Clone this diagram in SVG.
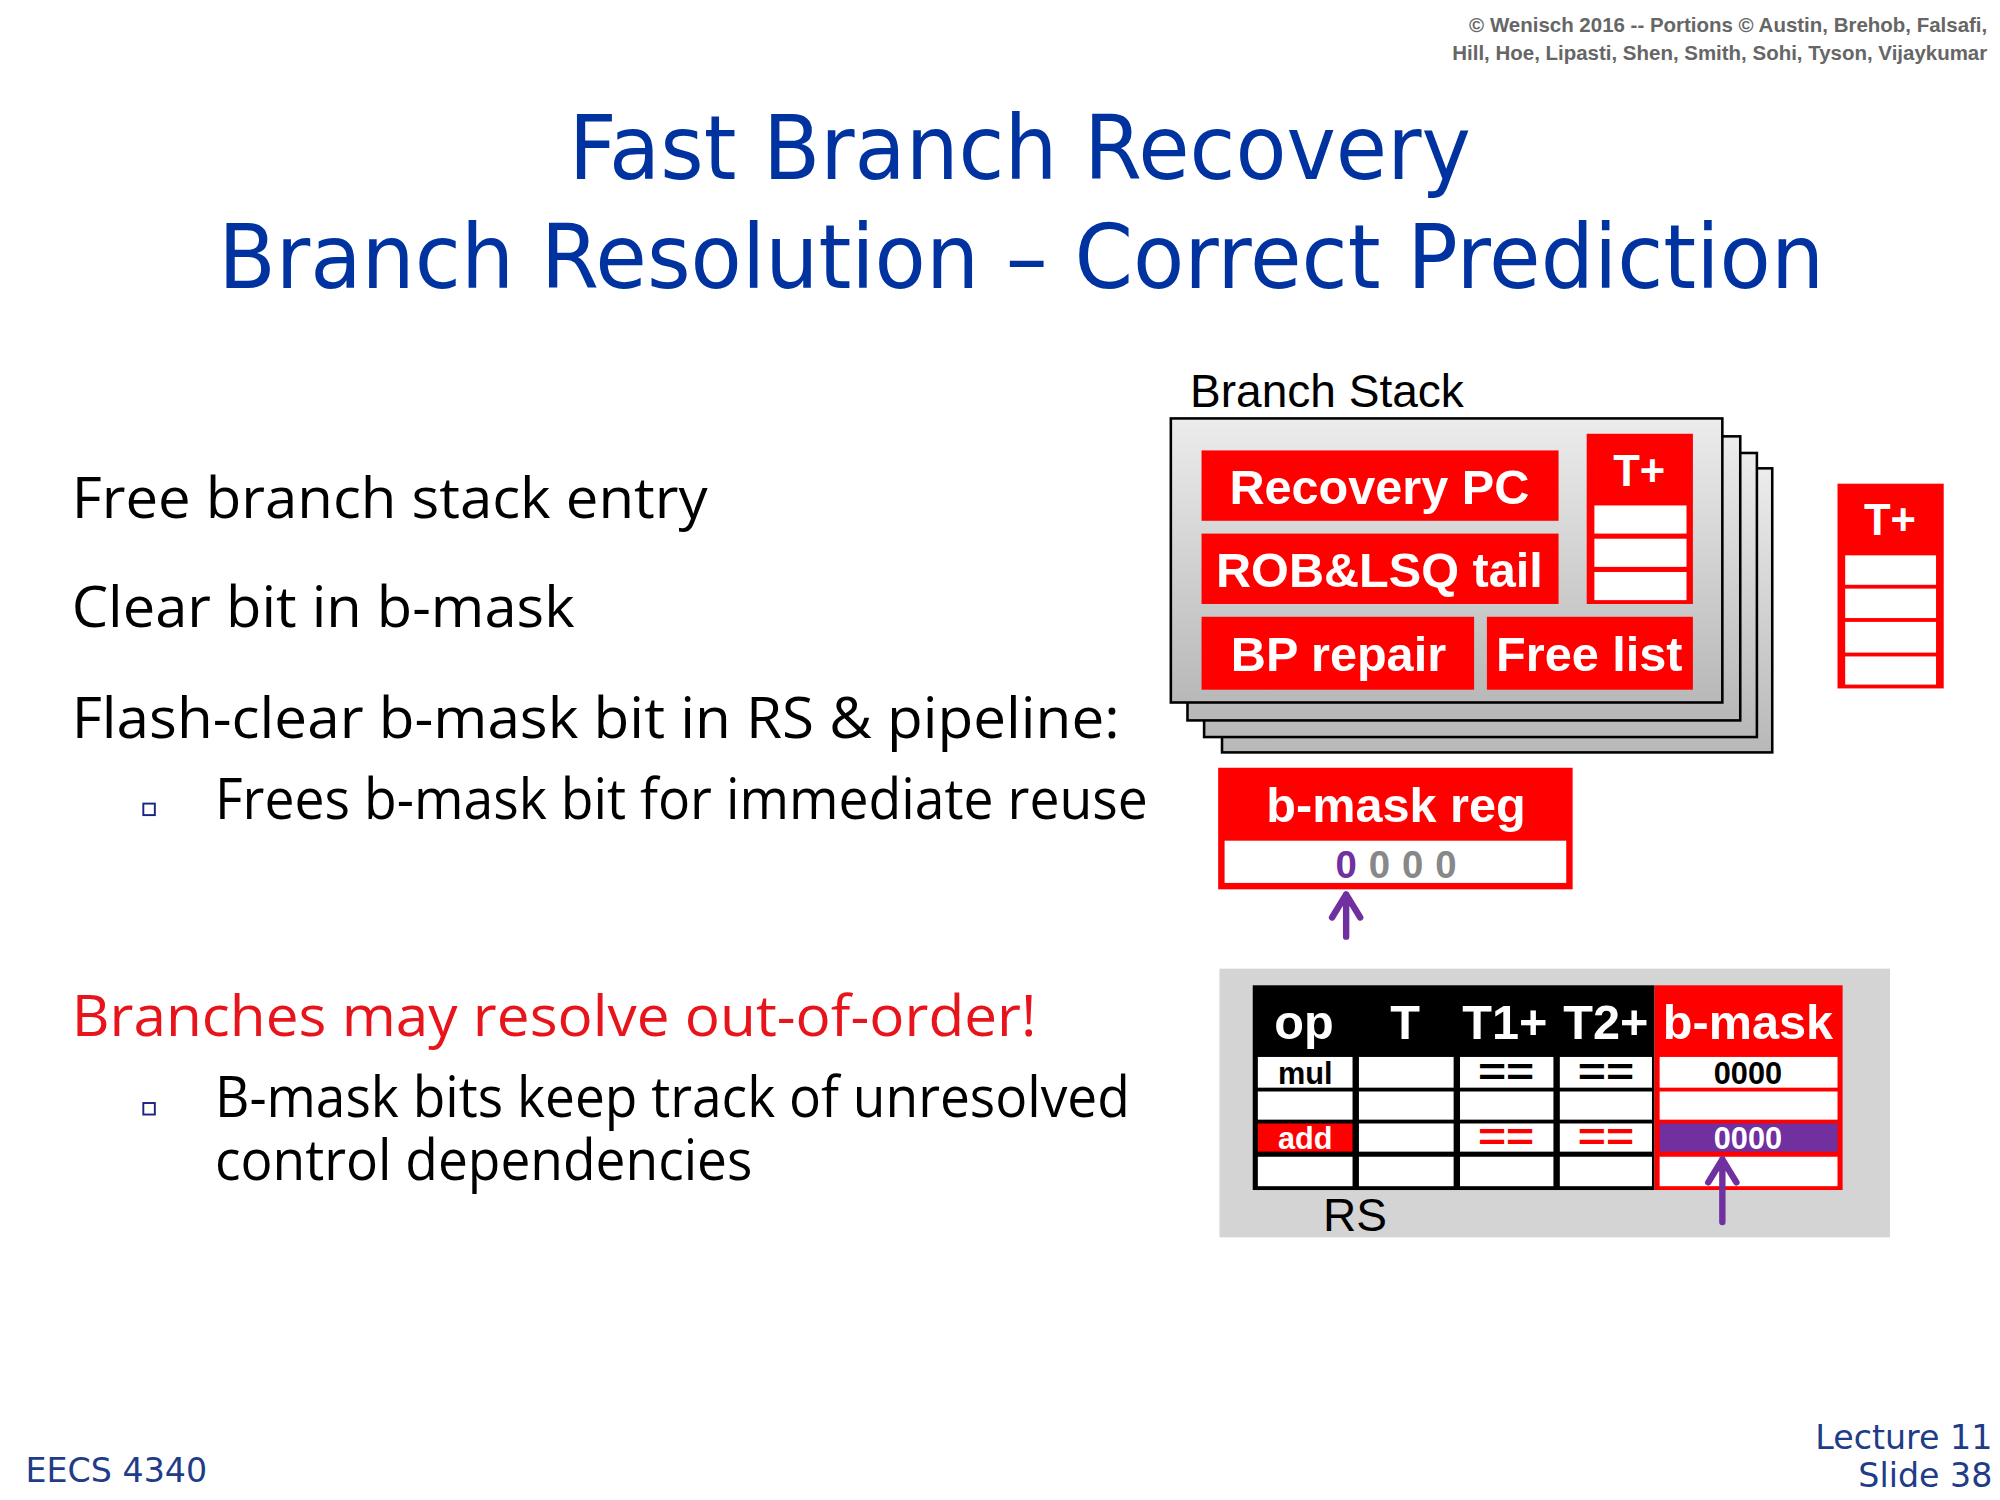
<svg xmlns="http://www.w3.org/2000/svg" width="2000" height="1500" viewBox="0 0 2000 1500">
<defs>
<linearGradient id="gs" x1="0" y1="0" x2="0" y2="1"><stop offset="0" stop-color="#ececec"/><stop offset="1" stop-color="#b8b8b8"/></linearGradient>
<style>
.t{font-family:"DejaVu Sans",sans-serif;fill:#0033a0;text-anchor:middle}
.b{font-family:"Open Sans","Noto Sans",sans-serif;font-size:44px;fill:#000}
.w{font-family:"Liberation Sans",Arial,sans-serif;font-weight:bold;fill:#fff;text-anchor:middle}
.red{fill:#ff0000}
.cell{fill:#fff}
.sq{fill:none;stroke:#1a237e;stroke-width:1.5}
.card{fill:url(#gs);stroke:#000;stroke-width:2}
.arr{stroke:#7030a0;stroke-width:5;fill:none;stroke-linecap:round;stroke-linejoin:round}
</style>
</defs>
<rect width="2000" height="1500" fill="#fff"/>
<g transform="scale(1.2796)">
<g id="copyright" font-family="Liberation Sans,Arial,sans-serif" font-size="16" font-weight="bold" fill="#666" text-anchor="end">
<text x="1553" y="25">© Wenisch 2016 -- Portions © Austin, Brehob, Falsafi,</text>
<text x="1553" y="47">Hill, Hoe, Lipasti, Shen, Smith, Sohi, Tyson, Vijaykumar</text>
</g>
<g id="title">
<text class="t" x="797" y="140" font-size="70" textLength="705" lengthAdjust="spacingAndGlyphs">Fast Branch Recovery</text>
<text class="t" x="798" y="225" font-size="70" textLength="1255" lengthAdjust="spacingAndGlyphs">Branch Resolution – Correct Prediction</text>
</g>
<g id="bullets">
<text class="b" x="56" y="405" textLength="497" lengthAdjust="spacingAndGlyphs">Free branch stack entry</text>
<text class="b" x="56" y="490" textLength="393" lengthAdjust="spacingAndGlyphs">Clear bit in b-mask</text>
<text class="b" x="56" y="577" textLength="819" lengthAdjust="spacingAndGlyphs">Flash-clear b-mask bit in RS &amp; pipeline:</text>
<rect class="sq" x="112" y="628" width="9" height="9"/>
<text class="b" x="168" y="640" font-size="42" textLength="729" lengthAdjust="spacingAndGlyphs">Frees b-mask bit for immediate reuse</text>
<text class="b" x="56" y="810" style="fill:#e8141b" textLength="754" lengthAdjust="spacingAndGlyphs">Branches may resolve out-of-order!</text>
<rect class="sq" x="112" y="862" width="9" height="9"/>
<text class="b" x="168" y="873" font-size="40" textLength="715" lengthAdjust="spacingAndGlyphs">B-mask bits keep track of unresolved</text>
<text class="b" x="168" y="922" font-size="40" textLength="420" lengthAdjust="spacingAndGlyphs">control dependencies</text>
</g>
<g id="branch-stack">
<text x="930" y="318" font-family="Liberation Sans,Arial,sans-serif" font-size="36" fill="#000">Branch Stack</text>
<rect class="card" x="955" y="366" width="430" height="222"/>
<rect class="card" x="941" y="354" width="432" height="222"/>
<rect class="card" x="928" y="341" width="432" height="222"/>
<rect class="card" x="915" y="327" width="431" height="222"/>
<rect class="red" x="939" y="352" width="279" height="55"/>
<text class="w" x="1078" y="394" font-size="38">Recovery PC</text>
<rect class="red" x="939" y="417" width="279" height="55"/>
<text class="w" x="1078" y="459" font-size="38">ROB&amp;LSQ tail</text>
<rect class="red" x="939" y="482" width="213" height="57"/>
<text class="w" x="1046" y="524" font-size="38">BP repair</text>
<rect class="red" x="1162" y="482" width="161" height="57"/>
<text class="w" x="1242" y="524" font-size="38">Free list</text>
<rect class="red" x="1240" y="339" width="83" height="133"/>
<text class="w" x="1281" y="380" font-size="34">T+</text>
<rect class="cell" x="1246" y="395" width="72" height="22"/>
<rect class="cell" x="1246" y="421" width="72" height="22"/>
<rect class="cell" x="1246" y="447" width="72" height="22"/>
</g>
<g id="tplus">
<rect class="red" x="1436" y="378" width="83" height="160"/>
<text class="w" x="1477" y="418" font-size="34">T+</text>
<rect class="cell" x="1442" y="434" width="71" height="23"/>
<rect class="cell" x="1442" y="460" width="71" height="23"/>
<rect class="cell" x="1442" y="486" width="71" height="24"/>
<rect class="cell" x="1442" y="513" width="71" height="22"/>
</g>
<g id="bmask-reg">
<rect class="red" x="952" y="600" width="277" height="95"/>
<text class="w" x="1091" y="642" font-size="38">b-mask reg</text>
<rect class="cell" x="957" y="657" width="267" height="33"/>
<g font-family="Liberation Sans,Arial,sans-serif" font-weight="bold" font-size="30" text-anchor="middle">
<text x="1052" y="686" fill="#7030a0">0</text>
<text x="1078" y="686" fill="#888">0</text>
<text x="1104" y="686" fill="#888">0</text>
<text x="1130" y="686" fill="#888">0</text>
</g>
</g>
<g id="rs">
<rect x="953" y="757" width="524" height="210" fill="#d4d4d4"/>
<rect x="979" y="770" width="314" height="160" fill="#000"/>
<rect class="red" x="1293" y="770" width="147" height="160"/>
<text class="w" x="1019" y="812" font-size="38">op</text>
<text class="w" x="1098" y="812" font-size="38">T</text>
<text class="w" x="1176" y="812" font-size="38">T1+</text>
<text class="w" x="1255" y="812" font-size="38">T2+</text>
<text class="w" x="1366" y="812" font-size="38">b-mask</text>
<g class="cell">
<rect x="983" y="826" width="74" height="24"/><rect x="1062" y="826" width="74" height="24"/><rect x="1141" y="826" width="73" height="24"/><rect x="1219" y="826" width="72" height="24"/><rect x="1297" y="826" width="139" height="24"/>
<rect x="983" y="853" width="74" height="22"/><rect x="1062" y="853" width="74" height="22"/><rect x="1141" y="853" width="73" height="22"/><rect x="1219" y="853" width="72" height="22"/><rect x="1297" y="853" width="139" height="22"/>
<rect x="1062" y="878" width="74" height="22"/><rect x="1141" y="878" width="73" height="22"/><rect x="1219" y="878" width="72" height="22"/>
<rect x="983" y="904" width="74" height="23"/><rect x="1062" y="904" width="74" height="23"/><rect x="1141" y="904" width="73" height="23"/><rect x="1219" y="904" width="72" height="23"/><rect x="1297" y="904" width="139" height="23"/>
</g>
<rect x="983" y="878" width="74" height="22" fill="#ff0000"/>
<rect x="1297" y="878" width="139" height="22" fill="#7030a0"/>
<g font-family="Liberation Sans,Arial,sans-serif" font-weight="bold" font-size="24" text-anchor="middle">
<text x="1020" y="847" fill="#000">mul</text>
<text x="1177" y="848" fill="#000" font-size="30" textLength="44" lengthAdjust="spacingAndGlyphs">==</text>
<text x="1255" y="848" fill="#000" font-size="30" textLength="44" lengthAdjust="spacingAndGlyphs">==</text>
<text x="1366" y="847" fill="#000">0000</text>
<text x="1020" y="898" fill="#fff">add</text>
<text x="1177" y="899" fill="#ff0000" font-size="30" textLength="44" lengthAdjust="spacingAndGlyphs">==</text>
<text x="1255" y="899" fill="#ff0000" font-size="30" textLength="44" lengthAdjust="spacingAndGlyphs">==</text>
<text x="1366" y="898" fill="#fff">0000</text>
</g>
<text x="1034" y="962" font-family="Liberation Sans,Arial,sans-serif" font-size="36" fill="#000">RS</text>
</g>
<g id="connectors">
<path class="arr" d="M1052,732 L1052,699 M1041,717 L1052,699 L1063,717"/>
<path class="arr" d="M1346,955 L1346,906 M1335,924 L1346,906 L1357,924"/>
</g>
<g id="footer" font-family="DejaVu Sans,sans-serif" fill="#1f3c88">
<text x="20" y="1158" font-size="26">EECS 4340</text>
<text x="1557" y="1132" font-size="26" text-anchor="end">Lecture 11</text>
<text x="1557" y="1162" font-size="26" text-anchor="end">Slide 38</text>
</g>
</g>
</svg>
